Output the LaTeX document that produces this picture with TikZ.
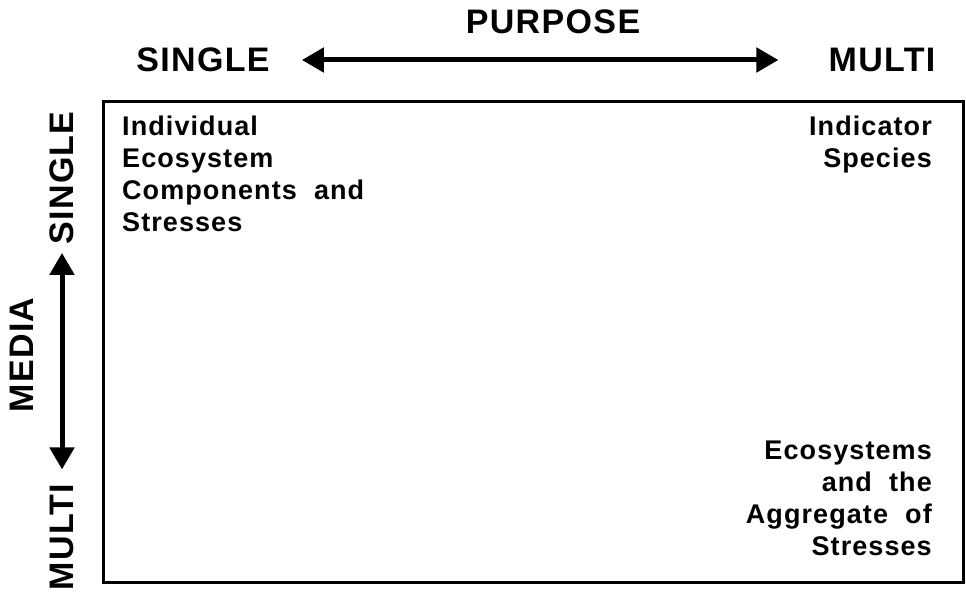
\documentclass[tikz,border=0pt]{standalone}
\usepackage{fontspec}
\setmainfont{Liberation Sans}[LetterSpace=4]
\usetikzlibrary{arrows.meta}
\tikzset{
  axislabel/.style={font=\fontsize{34}{36}\selectfont\bfseries, inner sep=0pt},
  celltext/.style={font=\fontsize{27}{32}\selectfont\bfseries, inner sep=0pt},
  axisarrow/.style={line width=5pt, {Triangle[length=22pt,width=24pt]}-{Triangle[length=22pt,width=24pt]}}
}
\begin{document}
\begin{tikzpicture}[x=1pt,y=-1pt]
\useasboundingbox (0,0) rectangle (966,594);
% purpose axis
\node[axislabel] (purpose) at (553,22) {PURPOSE};
\node[axislabel] (psingle) at (203,60) {SINGLE};
\node[axislabel] (pmulti) at (882,60) {MULTI};
\draw[axisarrow, shorten <=32pt, shorten >=50pt] (psingle.east) -- (pmulti.west);
% media axis
\node[axislabel, rotate=90] (media) at (22,355) {MEDIA};
\node[axislabel, rotate=90] (msingle) at (62,178) {SINGLE};
\node[axislabel, rotate=90] (mmulti) at (62,537) {MULTI};
\draw[axisarrow, shorten <=14pt, shorten >=8pt] (mmulti.east) -- (msingle.west);
% box
\draw[line width=3pt] (103,101) rectangle (963,582);
\node[celltext, align=left, anchor=north west] (indiv) at (122,116) {Individual\\Ecosystem\\Components\ \ and\\Stresses};
\node[celltext, align=right, anchor=north east] (indic) at (932,116) {Indicator\\Species};
\node[celltext, align=right, anchor=north east] (ecos) at (932,441) {Ecosystems\\and\ \ the\\Aggregate\ \ of\\Stresses};
\end{tikzpicture}
\end{document}
